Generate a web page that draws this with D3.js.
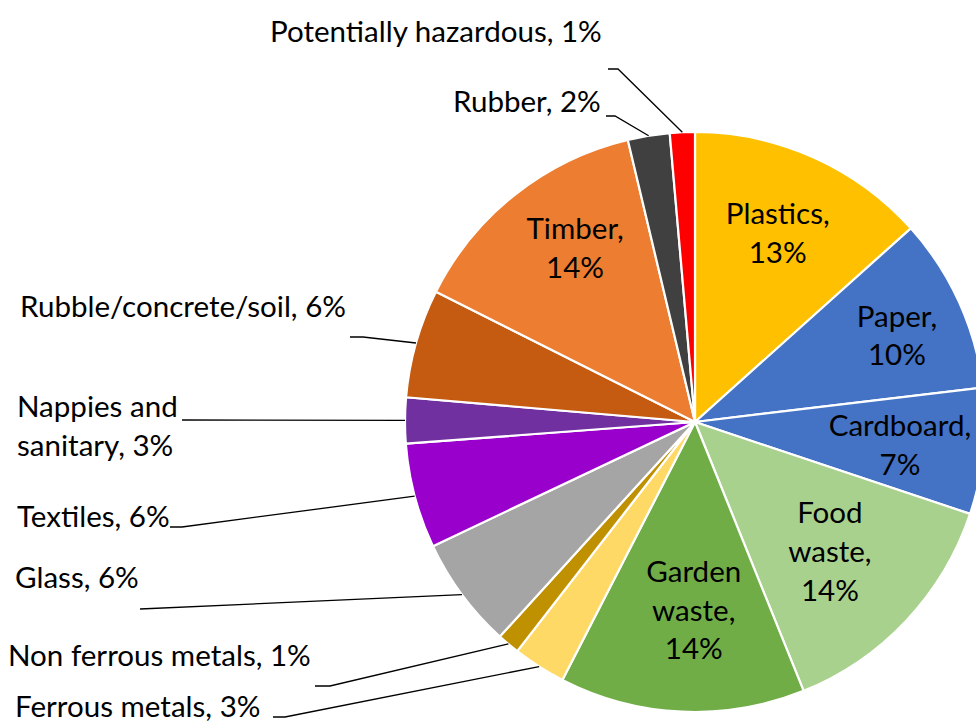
<!DOCTYPE html>
<html>
<head>
<meta charset="utf-8">
<script src="https://cdn.jsdelivr.net/npm/d3@7"></script>
<style>
  html, body { margin: 0; padding: 0; background: #ffffff; }
  svg { display: block; }
</style>
</head>
<body>
<svg id="chart" width="976" height="722"></svg>
<script>
// ---- data ----
const categories = ["Plastics", "Paper", "Cardboard", "Food waste", "Garden waste",
  "Ferrous metals", "Non ferrous metals", "Glass", "Textiles", "Nappies and sanitary",
  "Rubble/concrete/soil", "Timber", "Rubber", "Potentially hazardous"];
const values = [13.36, 9.74, 7.03, 13.76, 13.67, 2.94, 1.25, 6.21, 5.85, 2.55, 6.06, 13.86, 2.33, 1.39];
const colors = ["#FFC000", "#4472C4", "#4472C4", "#A9D18E", "#70AD47", "#FFD966", "#BF9000",
  "#A5A5A5", "#9900CC", "#7030A0", "#C55A11", "#ED7D31", "#404040", "#FF0000"];

// ---- label layout (not data) ----
// inside labels: line breaks of name, offset from centroid
const insideLabels = {
  "Plastics": { lines: ["Plastics"], dx: 0, dy: -2 },
  "Paper": { lines: ["Paper"], dx: 17, dy: -1 },
  "Cardboard": { lines: ["Cardboard"], dx: 3, dy: 4 },
  "Food waste": { lines: ["Food", "waste"], dx: -13, dy: -8 },
  "Garden waste": { lines: ["Garden", "waste"], dx: 8, dy: -13 },
  "Timber": { lines: ["Timber"], dx: 6, dy: -13 }
};
// outside labels: left x, first baseline, leader start, horizontal stub length
const outsideLabels = {
  "Potentially hazardous": { lines: ["Potentially hazardous"], x: 270, y: 42, lx: 608, ly: 69, stub: 10 },
  "Rubber": { lines: ["Rubber"], x: 453, y: 112, lx: 606, ly: 116, stub: 9 },
  "Rubble/concrete/soil": { lines: ["Rubble/concrete/soil"], x: 20, y: 317, lx: 350, ly: 337, stub: 13 },
  "Nappies and sanitary": { lines: ["Nappies and", "sanitary"], x: 17, y: 417, lx: 182, ly: 420, stub: 0 },
  "Textiles": { lines: ["Textiles"], x: 17, y: 527, lx: 170, ly: 527, stub: 12 },
  "Glass": { lines: ["Glass"], x: 15, y: 588, lx: 140, ly: 609, stub: 0 },
  "Non ferrous metals": { lines: ["Non ferrous metals"], x: 8, y: 666, lx: 315, ly: 686, stub: 15 },
  "Ferrous metals": { lines: ["Ferrous metals"], x: 15, y: 717, lx: 273, ly: 717, stub: 12 }
};

// ---- chart ----
const svg = d3.select("#chart");
const cx = 695, cy = 422, R = 290;
const fontFamily = "Lato, 'Liberation Sans', sans-serif";

// fit font size so widths resemble the original
const probe = svg.append("text").attr("font-family", fontFamily).attr("font-size", 100)
  .text("Potentially hazardous, 1%");
const probeW = probe.node().getComputedTextLength();
probe.remove();
const fontSize = 100 * 332 / probeW;
const lineH = 38.8;

const total = d3.sum(values);
const data = categories.map((c, i) => ({ name: c, value: values[i], color: colors[i] }));

const pie = d3.pie().value(d => d.value).sort(null);
const arcs = pie(data);
const arc = d3.arc().innerRadius(0).outerRadius(R);
const labelArc = d3.arc().innerRadius(R * 0.7).outerRadius(R * 0.7);

const g = svg.append("g").attr("transform", `translate(${cx},${cy})`);

g.selectAll("path.slice")
  .data(arcs)
  .join("path")
  .attr("class", "slice")
  .attr("d", arc)
  .attr("fill", d => d.data.color)
  .attr("stroke", "#ffffff")
  .attr("stroke-width", 2.2)
  .attr("stroke-linejoin", "round");

const pct = d => Math.round(d.data.value / total * 100) + "%";

// inside labels
arcs.forEach(d => {
  const L = insideLabels[d.data.name];
  if (!L) return;
  const [mx, my] = labelArc.centroid(d);
  const lines = L.lines.slice();
  lines[lines.length - 1] += ",";
  lines.push(pct(d));
  const x = cx + mx + L.dx;
  const yc = cy + my + L.dy;
  const y0 = yc - (lines.length - 1) * lineH / 2 + fontSize * 0.3;
  const t = svg.append("text")
    .attr("font-family", fontFamily)
    .attr("font-size", fontSize)
    .attr("fill", "#000000")
    .attr("text-anchor", "middle");
  lines.forEach((ln, i) => {
    t.append("tspan").attr("x", x).attr("y", y0 + i * lineH).text(ln);
  });
});

// outside labels with leader lines
arcs.forEach(d => {
  const L = outsideLabels[d.data.name];
  if (!L) return;
  const lines = L.lines.slice();
  lines[lines.length - 1] += ", " + pct(d);
  const t = svg.append("text")
    .attr("font-family", fontFamily)
    .attr("font-size", fontSize)
    .attr("fill", "#000000")
    .attr("text-anchor", "start");
  lines.forEach((ln, i) => {
    t.append("tspan").attr("x", L.x).attr("y", L.y + i * lineH).text(ln);
  });
  const mid = (d.startAngle + d.endAngle) / 2;
  const ex = cx + R * Math.sin(mid);
  const ey = cy - R * Math.cos(mid);
  const pts = [[L.lx, L.ly]];
  if (L.stub > 0) pts.push([L.lx + L.stub, L.ly]);
  pts.push([ex, ey]);
  svg.append("path")
    .attr("d", d3.line()(pts))
    .attr("fill", "none")
    .attr("stroke", "#000000")
    .attr("stroke-width", 1.3);
});
</script>
</body>
</html>
